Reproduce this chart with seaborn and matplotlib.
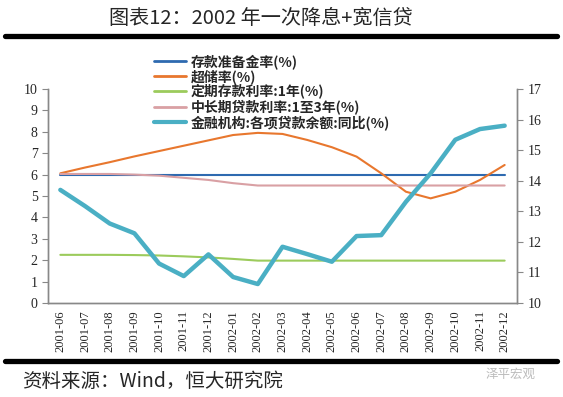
import numpy as np
import pandas as pd
import matplotlib
matplotlib.use("Agg")
import matplotlib.pyplot as plt
import seaborn as sns
from matplotlib.lines import Line2D

# -------------------- #
# Data
# -------------------- #
months = ["2001-06", "2001-07", "2001-08", "2001-09", "2001-10", "2001-11", "2001-12",
          "2002-01", "2002-02", "2002-03", "2002-04", "2002-05", "2002-06", "2002-07",
          "2002-08", "2002-09", "2002-10", "2002-11", "2002-12"]

reserve_ratio = [6.0] * 19
excess_reserve = [6.06, 6.33, 6.58, 6.85, 7.1, 7.35, 7.6, 7.85, 7.95, 7.9, 7.62,
                  7.28, 6.84, 6.06, 5.2, 4.89, 5.2, 5.75, 6.45]
deposit_1y = [2.25, 2.25, 2.25, 2.24, 2.22, 2.18, 2.13, 2.06, 1.98, 1.98, 1.98,
              1.98, 1.98, 1.98, 1.98, 1.98, 1.98, 1.98, 1.98]
loan_1_3y = [6.03, 6.03, 6.03, 6.0, 5.95, 5.85, 5.75, 5.6, 5.49, 5.49, 5.49,
             5.49, 5.49, 5.49, 5.49, 5.49, 5.49, 5.49, 5.49]
loan_yoy = [13.7, 13.17, 12.6, 12.28, 11.29, 10.88, 11.59, 10.85, 10.62, 11.84, 11.6,
            11.35, 12.19, 12.22, 13.31, 14.24, 15.34, 15.69, 15.8]

labels = ["存款准备金率(%)", "超储率(%)", "定期存款利率:1年(%)",
          "中长期贷款利率:1至3年(%)", "金融机构:各项贷款余额:同比(%)"]
colors = ["#2E6AB0", "#E8772E", "#9CCB5C", "#D9A0A4", "#4AAFC4"]

df = pd.DataFrame({"i": np.arange(len(months)),
                   labels[0]: reserve_ratio, labels[1]: excess_reserve,
                   labels[2]: deposit_1y, labels[3]: loan_1_3y, labels[4]: loan_yoy})

# -------------------- #
# Figure
# -------------------- #
sns.set_style("white")
plt.rcParams['font.family'] = ['Noto Sans CJK SC', 'DejaVu Sans']

fig = plt.figure(figsize=(5.63, 3.97), dpi=100)
ax = fig.add_axes([48 / 563, 94 / 397, 469 / 563, 214 / 397])
ax2 = ax.twinx()

for k in range(4):
    sns.lineplot(data=df, x="i", y=labels[k], ax=ax, color=colors[k], lw=1.5)
sns.lineplot(data=df, x="i", y=labels[4], ax=ax2, color=colors[4], lw=3.2)

ax.set_xlim(-0.5, len(months) - 0.5)
ax.set_ylim(0, 10)
ax2.set_ylim(10, 17)
ax.set_yticks(range(0, 11))
ax2.set_yticks(range(10, 18))
ax.set_xlabel("")
ax.set_ylabel("")
ax2.set_ylabel("")

serif = "Liberation Serif"
ax.set_xticks(range(len(months)))
ax.set_xticklabels(months, rotation=90, fontsize=9, family=serif)
ax.set_xticks(np.arange(-0.5, len(months)), minor=True)
ax.tick_params(axis="x", which="major", length=0, pad=5)
ax.tick_params(axis="x", which="minor", length=4, color="#888888", direction="out")
ax.tick_params(axis="y", length=4, color="#888888", direction="out", labelsize=10)
ax2.tick_params(axis="y", length=4, color="#888888", direction="out", labelsize=10)
for t in ax.get_yticklabels() + ax2.get_yticklabels():
    t.set_family(serif)

for a in (ax, ax2):
    a.spines["top"].set_visible(False)
    for s in ("left", "right", "bottom"):
        a.spines[s].set_color("#888888")
        a.spines[s].set_linewidth(1.0)

# legend (straddles top of plot area)
handles = [Line2D([], [], color=colors[k], lw=2 if k < 4 else 3) for k in range(5)]
fig.legend(handles, labels, loc="upper left", bbox_to_anchor=(147 / 563, 1 - 47 / 397),
           frameon=False, prop={"family": ['Noto Sans CJK SC'], "weight": "bold", "size": 10},
           handlelength=2.3, handletextpad=0.35, labelspacing=0.02, borderpad=0)

# title, rules, source
fig.text(0.464, 1 - 18 / 397, "图表12：2002 年一次降息+宽信贷", ha="center", va="center",
         fontsize=14.5)
fig.add_artist(Line2D([5 / 563, 557 / 563], [1 - 36 / 397] * 2, color="black", lw=3.8))
fig.add_artist(Line2D([5 / 563, 557 / 563], [1 - 361 / 397] * 2, color="black", lw=3.8))
fig.text(22 / 563, 1 - 381 / 397, "资料来源：Wind，恒大研究院", ha="left", va="center",
         fontsize=14, style="italic")
fig.text(486 / 563, 1 - 374 / 397, "泽平宏观", ha="left", va="center",
         fontsize=9, color="#BBBBBB")

fig.savefig("out.png", dpi=100)
